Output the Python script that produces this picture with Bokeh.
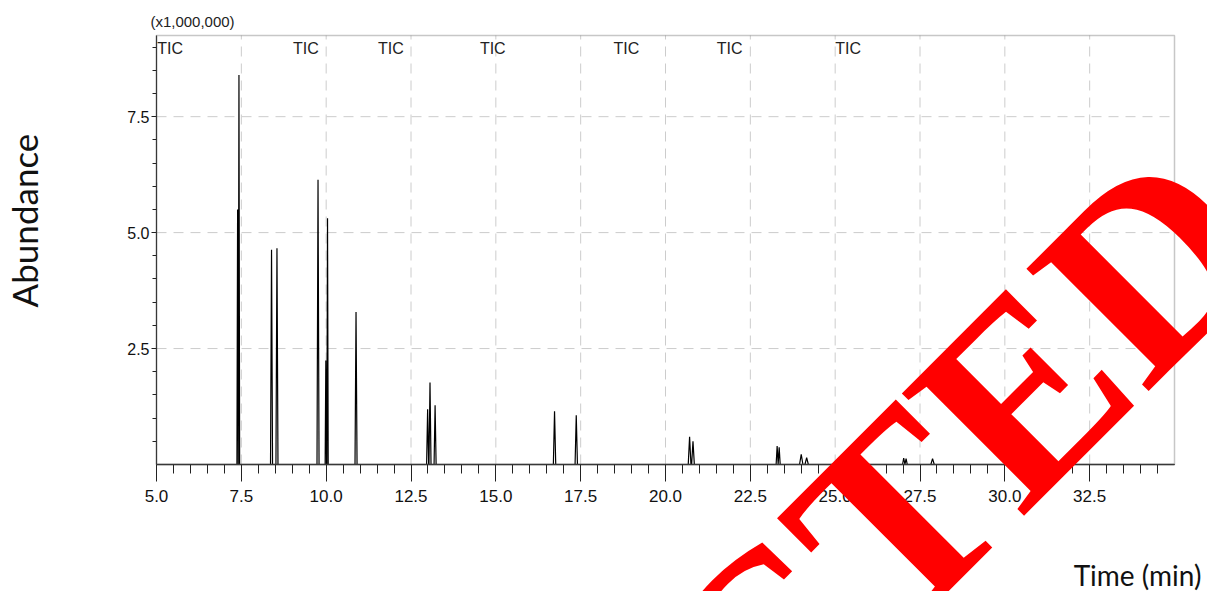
import math
from bokeh.plotting import figure
from bokeh.models import (Range1d, FixedTicker, PrintfTickFormatter, Label, LabelSet,
                          ColumnDataSource, BoxAnnotation)
from bokeh.core.properties import value
from bokeh.embed import file_html
from bokeh.resources import INLINE

# ---------------- data ----------------
peak_times = [7.39, 7.43, 8.39, 8.55, 9.76, 9.99, 10.04, 10.88,
              12.99, 13.06, 13.21, 16.73, 17.37, 20.71, 20.81,
              23.29, 23.35, 24.00, 24.16, 27.02, 27.09, 27.87]
peak_heights = [5.50, 8.40, 4.63, 4.66, 6.14, 2.24, 5.31, 3.29,
                1.19, 1.77, 1.28, 1.15, 1.06, 0.60, 0.50,
                0.40, 0.37, 0.22, 0.15, 0.14, 0.125, 0.125]
peak_half_widths = [0.02, 0.02, 0.03, 0.03, 0.03, 0.02, 0.02, 0.03,
                    0.03, 0.03, 0.03, 0.035, 0.035, 0.04, 0.04,
                    0.03, 0.03, 0.05, 0.05, 0.035, 0.035, 0.05]
time_start, time_end = 5.0, 35.0
abundance_max = 9.25

x_major_ticks = [5.0, 7.5, 10.0, 12.5, 15.0, 17.5, 20.0, 22.5, 25.0, 27.5, 30.0, 32.5]
x_minor_ticks = [5.5, 6.0, 6.5, 7.0, 8.0, 8.5, 9.0, 9.5, 10.5, 11.0, 11.5, 12.0,
                 13.0, 13.5, 14.0, 14.5, 15.5, 16.0, 16.5, 17.0, 18.0, 18.5, 19.0, 19.5,
                 20.5, 21.0, 21.5, 22.0, 23.0, 23.5, 24.0, 24.5, 25.5, 26.0, 26.5, 27.0,
                 28.0, 28.5, 29.0, 29.5, 30.5, 31.0, 31.5, 32.0, 33.0, 33.5, 34.0, 34.5]
y_major_ticks = [2.5, 5.0, 7.5]
y_minor_ticks = [0.5, 1.0, 1.5, 2.0, 3.0, 3.5, 4.0, 4.5, 5.5, 6.0, 6.5, 7.0, 8.0, 8.5, 9.0]

tic_label_times = [5.02, 9.02, 11.53, 14.53, 18.47, 21.51, 25.00]
tic_label_texts = ["TIC"] * len(tic_label_times)

# ---------------- build the trace from the peak table ----------------
trace_x = [time_start]
trace_y = [0.0]
for t, h, w in sorted(zip(peak_times, peak_heights, peak_half_widths)):
    trace_x += [t - w, t, t + w]
    trace_y += [0.0, h, 0.0]
trace_x.append(time_end)
trace_y.append(0.0)

# ---------------- figure: the frame fills the canvas, the axes sit at fixed locations ----------------
W, H = 1207, 591
BL, BR, BT, BB = 156, 33, 35, 127          # pixels around the plotting box
px_per_x = (W - BL - BR) / (time_end - time_start)
px_per_y = (H - BT - BB) / abundance_max

p = figure(width=W, height=H, output_backend="svg", toolbar_location=None,
           x_range=Range1d(time_start - BL / px_per_x, time_end + BR / px_per_x),
           y_range=Range1d(-BB / px_per_y, abundance_max + BT / px_per_y),
           min_border=0)
if p.title is not None:
    p.title.visible = False
p.background_fill_color = "white"
p.border_fill_color = "white"
p.outline_line_color = None
p.xgrid.visible = False
p.ygrid.visible = False

# dashed grid inside the plotting box
grid_x = x_major_ticks[1:]
p.segment(x0=grid_x, y0=[0] * len(grid_x), x1=grid_x, y1=[abundance_max] * len(grid_x),
          line_color="#cccccc", line_dash="10 7", line_width=1)
p.segment(x0=[time_start] * len(y_major_ticks), y0=y_major_ticks,
          x1=[time_end] * len(y_major_ticks), y1=y_major_ticks,
          line_color="#cccccc", line_dash="10 7", line_width=1)

# chromatogram
p.line(trace_x, trace_y, line_color="black", line_width=1.2)

# plotting box outline
p.add_layout(BoxAnnotation(left=time_start, right=time_end, bottom=0, top=abundance_max,
                           fill_color=None, line_color="#444444", line_width=1.5))

tick_font = "Liberation Sans"
# x axis
xa = p.xaxis[0]
xa.fixed_location = 0
xa.bounds = (time_start, time_end)
xa.ticker = FixedTicker(ticks=x_major_ticks, minor_ticks=x_minor_ticks)
xa.formatter = PrintfTickFormatter(format="%.1f")
xa.major_tick_out = 17
xa.major_tick_in = 0
xa.minor_tick_out = 9
xa.minor_tick_in = 0
xa.major_tick_line_color = "#222222"
xa.minor_tick_line_color = "#222222"
xa.axis_line_color = "#333333"
xa.axis_line_width = 1.5
xa.major_label_standoff = 8
xa.major_label_text_font = tick_font
xa.major_label_text_font_size = "17px"
xa.major_label_text_color = "#111111"

# y axis
ya = p.yaxis[0]
ya.fixed_location = time_start
ya.bounds = (0, abundance_max)
ya.ticker = FixedTicker(ticks=y_major_ticks, minor_ticks=y_minor_ticks)
ya.formatter = PrintfTickFormatter(format="%.1f")
ya.major_tick_out = 5
ya.major_tick_in = 0
ya.minor_tick_out = 4
ya.minor_tick_in = 0
ya.major_tick_line_color = "#222222"
ya.minor_tick_line_color = "#222222"
ya.axis_line_color = "#333333"
ya.axis_line_width = 1.2
ya.major_label_standoff = 2
ya.major_label_text_font = tick_font
ya.major_label_text_font_size = "16px"
ya.major_label_text_color = "#111111"

# "TIC" labels along the top
tic_src = ColumnDataSource(dict(x=tic_label_times, y=[9.16] * len(tic_label_times), text=tic_label_texts))
p.add_layout(LabelSet(x="x", y="y", text="text", source=tic_src, text_align="left",
                      text_baseline="top", text_font=value(tick_font), text_font_size=value("16px"),
                      text_color="#222222"))

# scale note above the box
p.add_layout(Label(x=4.82, y=9.55, text="(x1,000,000)", text_align="left", text_baseline="middle",
                   text_font=tick_font, text_font_size="15px", text_color="#222222"))

# axis titles
p.add_layout(Label(x=1.11, y=5.26, text="Abundance", angle=math.pi / 2, text_align="center",
                   text_baseline="middle", text_font="Lato", text_font_size="35px",
                   text_color="#111111"))
p.add_layout(Label(x=33.91, y=-2.39, text="Time (min)", text_align="center",
                   text_baseline="alphabetic", text_font="Lato", text_font_size="28px",
                   text_color="#111111"))

# watermark
p.add_layout(Label(x=36.26, y=5.776, text="REDACTED", angle=math.pi / 4, text_align="right",
                   text_baseline="alphabetic", text_font="Liberation Serif", text_font_style="bold",
                   text_font_size="264px", text_color="#ff0000"))

open("out.html", "w").write(file_html(p, INLINE))
